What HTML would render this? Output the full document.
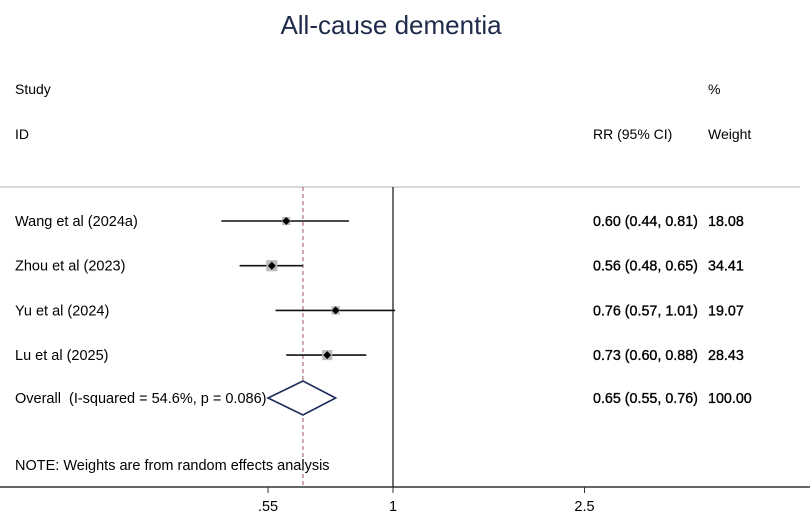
<!DOCTYPE html>
<html><head><meta charset="utf-8"><style>
body{margin:0;background:#fff;}
svg{display:block;font-family:"Liberation Sans",Arial,sans-serif;}
text{white-space:pre;}
</style></head><body>
<svg width="810" height="526" viewBox="0 0 810 526">
<text x="391" y="34" font-size="26" fill="#1e2a4a" text-anchor="middle">All-cause dementia</text>
<text x="15" y="94" font-size="14">Study</text>
<text x="15" y="139" font-size="14">ID</text>
<text x="593" y="139" font-size="14">RR (95% CI)</text>
<text x="708" y="94" font-size="14">%</text>
<text x="708" y="139" font-size="14">Weight</text>
<line x1="0" y1="187" x2="800" y2="187" stroke="#ccc" stroke-width="1.5"/>
<g id="plot"></g>
<text x="15" y="470" font-size="14.5">NOTE: Weights are from random effects analysis</text>
</svg>
<script>
const studies=["Wang et al (2024a)","Zhou et al (2023)","Yu et al (2024)","Lu et al (2025)"];
const rr=[0.60,0.56,0.76,0.73];
const lo=[0.44,0.48,0.57,0.60];
const hi=[0.81,0.65,1.01,0.88];
const weights=[18.08,34.41,19.07,28.43];
const overall=[0.65,0.55,0.76];
const overallLabel="Overall  (I-squared = 54.6%, p = 0.086)";
const ticks=[0.55,1,2.5];
const tickLabels=[".55","1","2.5"];
const NS="http://www.w3.org/2000/svg";
const g=document.getElementById('plot');
const X=v=>393+209*Math.log(v);
const rowY=i=>221+44.7*i;
const FS=14.5, NFS=14.3;
function mk(t,a,txt){const e=document.createElementNS(NS,t);for(const k in a)e.setAttribute(k,a[k]);if(txt!=null)e.textContent=txt;g.appendChild(e);return e;}
const fmt=v=>v.toFixed(2);
let e=mk('line',{x1:0,y1:487,x2:810,y2:487,stroke:'#333','stroke-width':1.5});


e=mk('line',{x1:393,y1:187,x2:393,y2:487,stroke:'#222','stroke-width':1.3});


e=mk('line',{x1:X(overall[0]),y1:187,x2:X(overall[0]),y2:487,stroke:'#a05060','stroke-width':1,'stroke-dasharray':'4,3'});


ticks.forEach((t,i)=>{
 e=mk('line',{x1:X(t),y1:487,x2:X(t),y2:493,stroke:'#333'});
 
 
 e=mk('text',{x:X(t),y:511,'font-size':FS,'text-anchor':'middle'},tickLabels[i]);
 
 
});
studies.forEach((s,i)=>{
 const y=rowY(i);
 e=mk('text',{x:15,y:y+5,'font-size':FS},s);
 
 
 e=mk('line',{x1:X(lo[i]),y1:y,x2:X(hi[i]),y2:y,stroke:'#111','stroke-width':1.6});
 
 
 const sz=Math.sqrt(weights[i])*1.9;
 e=mk('rect',{x:X(rr[i])-sz/2,y:y-sz/2,width:sz,height:sz,fill:'#bbb'});
 
 
 e=mk('path',{d:`M${X(rr[i])-4},${y} L${X(rr[i])},${y-4} L${X(rr[i])+4},${y} L${X(rr[i])},${y+4}Z`,fill:'#000'});
 
 
 e=mk('text',{x:593,y:y+5,'font-size':NFS,stroke:'#000','stroke-width':0.35},`${fmt(rr[i])} (${fmt(lo[i])}, ${fmt(hi[i])})`);
 
 
 e=mk('text',{x:708,y:y+5,'font-size':NFS,stroke:'#000','stroke-width':0.35},fmt(weights[i]));
 
 
});
const oy=398;
e=mk('text',{x:15,y:oy+5,'font-size':FS},overallLabel);


e=mk('path',{d:`M${X(overall[1])},${oy} L${X(overall[0])},${oy-17} L${X(overall[2])},${oy} L${X(overall[0])},${oy+17}Z`,fill:'#fff',stroke:'#1e2a5a','stroke-width':1.6});


e=mk('text',{x:593,y:oy+5,'font-size':NFS,stroke:'#000','stroke-width':0.35},`${fmt(overall[0])} (${fmt(overall[1])}, ${fmt(overall[2])})`);


e=mk('text',{x:708,y:oy+5,'font-size':NFS,stroke:'#000','stroke-width':0.35},"100.00");


</script>
</body></html>
